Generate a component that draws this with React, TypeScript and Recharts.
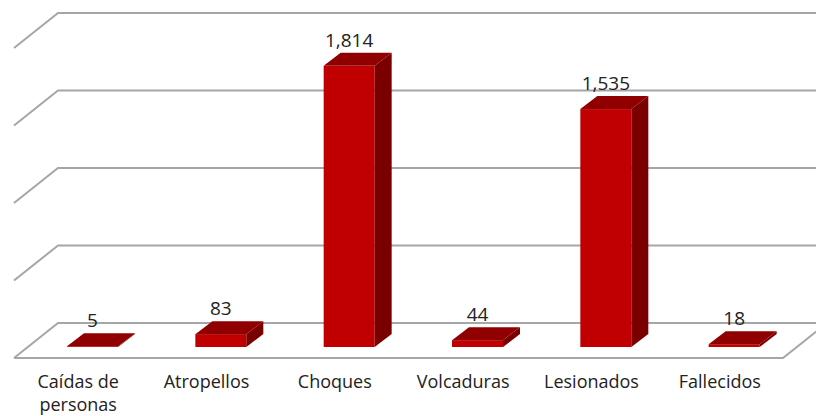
import React from 'react';
import { BarChart, Bar, XAxis, YAxis, CartesianGrid, LabelList, Text } from 'recharts';

const categories = ['Caídas de personas', 'Atropellos', 'Choques', 'Volcaduras', 'Lesionados', 'Fallecidos'];
const values = [5, 83, 1814, 44, 1535, 18];
const yTicks = [0, 500, 1000, 1500, 2000];

const data = categories.map((name, i) => ({ name, value: values[i] }));

const FONT = '"Open Sans", "DejaVu Sans", sans-serif';
const DX = 17;
const DY = 13;
const WALL_DX = 44;
const WALL_DY = 35;
const BACK_SHIFT = 24;
const GRID = '#a6a6a6';

const Bar3D = (props: any) => {
  const { x, y, width, height } = props;
  const fx = x, fy = y, w = width, h = Math.max(height, 0);
  const top = `M${fx},${fy} L${fx + DX},${fy - DY} L${fx + w + DX},${fy - DY} L${fx + w},${fy} Z`;
  const side = `M${fx + w},${fy} L${fx + w + DX},${fy - DY} L${fx + w + DX},${fy + h - DY} L${fx + w},${fy + h} Z`;
  return (
    <g>
      <rect x={fx} y={fy} width={w} height={h} fill="#c00000" />
      <path d={side} fill="#7a0000" />
      <path d={top} fill="#900000" />
    </g>
  );
};

const gridLine = (props: any) => {
  const { y1, x1, x2, index } = props;
  const yb = y1 - BACK_SHIFT;
  const leftFront = x1 - 14;
  const leftBack = leftFront + WALL_DX;
  const isFloor = Math.abs(y1 - 347) < 2;
  let d = `M${leftFront},${yb + WALL_DY} L${leftBack},${yb} L${x2 + 60},${yb}`;
  if (isFloor) {
    const rightFront = 783;
    d += ` M${leftFront},${yb + WALL_DY} L${rightFront},${yb + WALL_DY} L${rightFront + WALL_DX},${yb}`;
  }
  return <path key={`g-${index}`} d={d} stroke={GRID} strokeWidth={2} fill="none" />;
};

const CatTick = (props: any) => {
  const { x, y, payload } = props;
  return (
    <Text
      x={x - 14}
      y={y + 28}
      width={118}
      textAnchor="middle"
      verticalAnchor="start"
      lineHeight={23}
      fontSize={18}
      fontFamily={FONT}
      fill="#222"
    >
      {payload.value}
    </Text>
  );
};

export default function App() {
  return (
    <div style={{ position: 'absolute', left: 0, top: 0, background: '#fff' }}>
      <BarChart
        width={816}
        height={416}
        data={data}
        margin={{ top: 37, right: 18, bottom: 39, left: 28 }}
        style={{ fontFamily: FONT }}
      >
        <CartesianGrid vertical={false} horizontal={gridLine} />
        <XAxis
          dataKey="name"
          axisLine={false}
          tickLine={false}
          tickSize={0}
          tickMargin={0}
          height={30}
          interval={0}
          tick={<CatTick />}
        />
        <YAxis hide domain={[0, 2000]} ticks={yTicks} />
        <Bar dataKey="value" barSize={51} shape={<Bar3D />} isAnimationActive={false}>
          <LabelList
            dataKey="value"
            position="top"
            offset={19}
            fill="#222"
            fontSize={19}
            fontFamily={FONT}
            formatter={(v: any) => Number(v).toLocaleString('en-US')}
          />
        </Bar>
      </BarChart>
    </div>
  );
}
